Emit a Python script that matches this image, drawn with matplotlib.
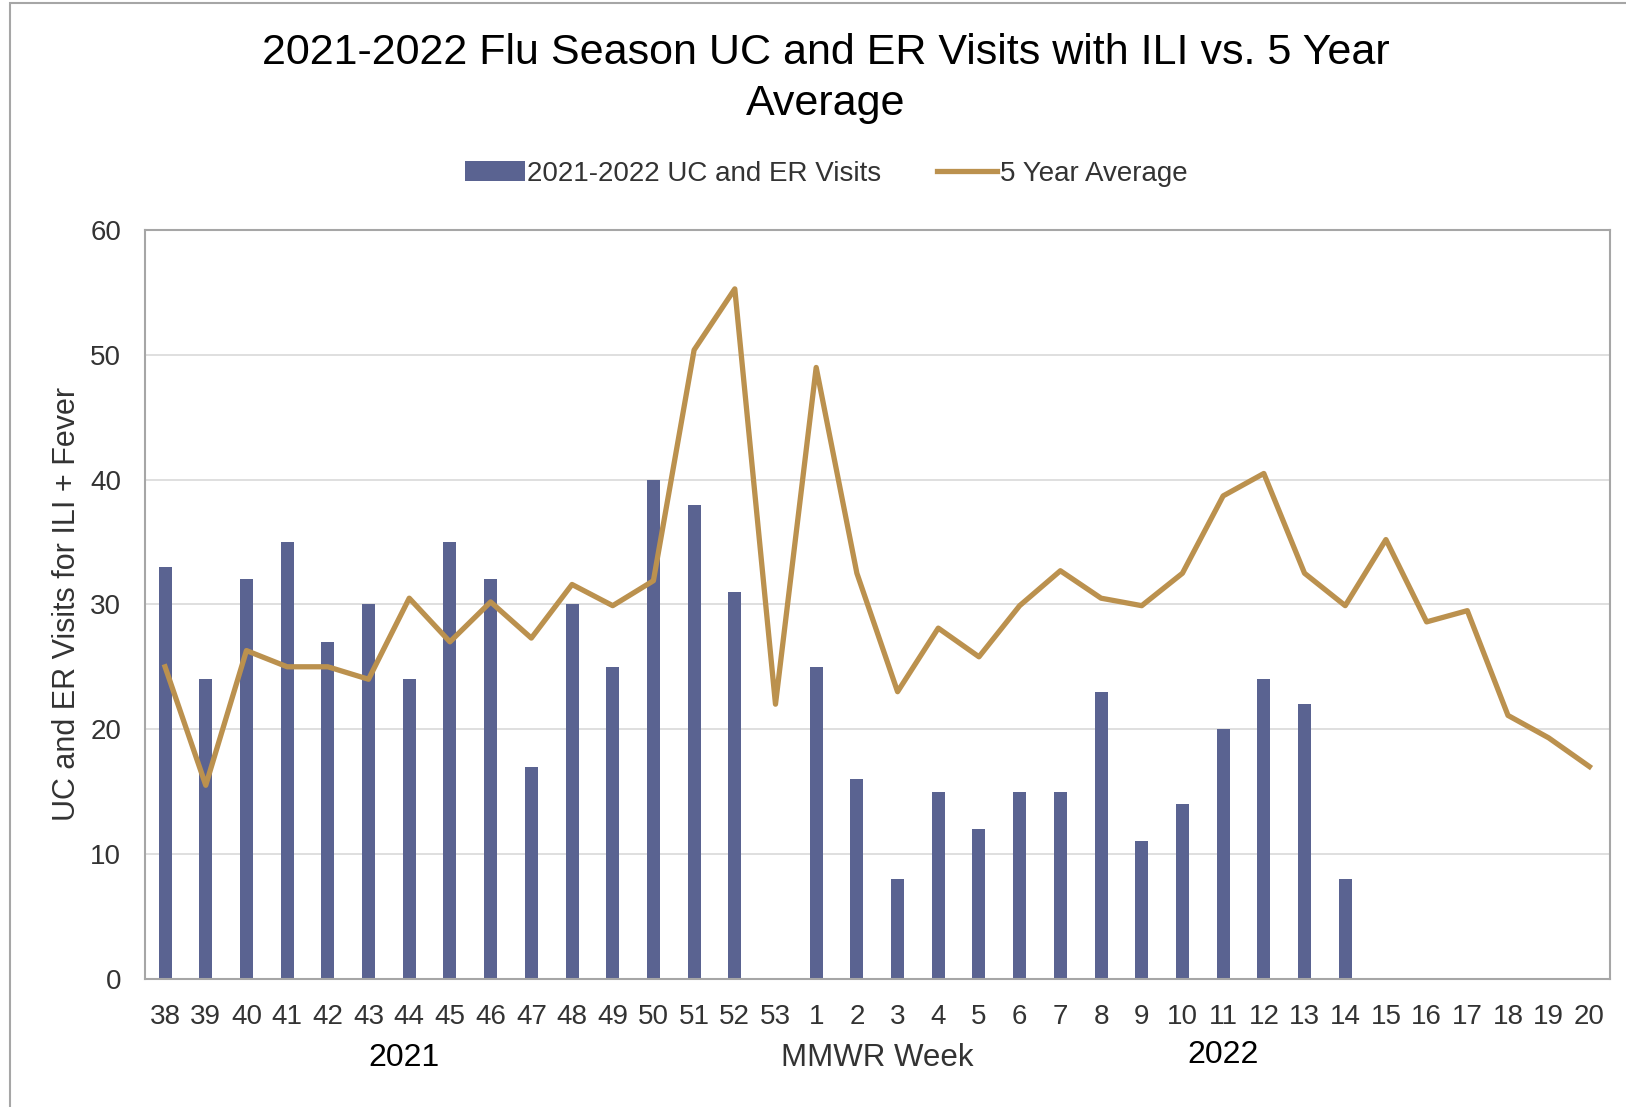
import numpy as np
import matplotlib
matplotlib.use("Agg")
import matplotlib.pyplot as plt
import matplotlib.transforms as mtransforms
from matplotlib.patches import Rectangle

plt.rcParams['font.family'] = ['Liberation Sans', 'DejaVu Sans']

# Data

weeks = ['38', '39', '40', '41', '42', '43', '44', '45', '46', '47', '48', '49',
         '50', '51', '52', '53', '1', '2', '3', '4', '5', '6', '7', '8', '9', '10',
         '11', '12', '13', '14', '15', '16', '17', '18', '19', '20']

visits = [33, 24, 32, 35, 27, 30, 24, 35, 32, 17, 30, 25, 40, 38, 31, np.nan,
          25, 16, 8, 15, 12, 15, 15, 23, 11, 14, 20, 24, 22, 8,
          np.nan, np.nan, np.nan, np.nan, np.nan, np.nan]

five_year_avg = [25, 15.5, 26.3, 25, 25, 24, 30.5, 27, 30.2, 27.3, 31.6, 29.9,
                 31.9, 50.4, 55.3, 22, 49, 32.5, 23, 28.1, 25.8, 29.9, 32.7, 30.5,
                 29.9, 32.5, 38.7, 40.5, 32.5, 29.9, 35.2, 28.6, 29.5, 21.1, 19.3, 17]

bar_color = '#5a6391'
line_color = '#bb914e'
tick_color = '#333333'

# Plot

fig = plt.figure(figsize=(16.26, 11.07), dpi=100)
ax = fig.add_axes([0.089, 0.116, 0.901, 0.676])

x = np.arange(len(weeks))
bars = ax.bar(x, visits, width=0.32, color=bar_color, label='2021-2022 UC and ER Visits', zorder=2)
line, = ax.plot(x, five_year_avg, color=line_color, linewidth=3.8, label='5 Year Average', zorder=3)

ax.set_xlim(-0.5, len(weeks) - 0.5)
ax.set_ylim(0, 60)
ax.set_yticks(range(0, 61, 10))
ax.set_xticks(x)
ax.set_xticklabels(weeks)
ax.tick_params(axis='both', length=0, labelsize=20, colors=tick_color)
ax.tick_params(axis='y', pad=17)
ax.tick_params(axis='x', pad=18)

ax.grid(axis='y', color='#d9d9d9', linewidth=1.2, zorder=0)
ax.set_axisbelow(True)
for side in ax.spines.values():
    side.set_color('#a6a6a6')
    side.set_linewidth(1.5)

ax.set_ylabel('UC and ER Visits for ILI + Fever', fontsize=22, color=tick_color, labelpad=6)

# year / axis labels under the ticks
trans = mtransforms.blended_transform_factory(ax.transData, ax.transAxes)
ax.text(5.87, -0.106, '2021', transform=trans, ha='center', va='center', fontsize=23, color='black')
ax.text(17.5, -0.106, 'MMWR Week', transform=trans, ha='center', va='center', fontsize=22.5, color=tick_color)
ax.text(26.0, -0.102, '2022', transform=trans, ha='center', va='center', fontsize=23, color='black')

fig.suptitle('2021-2022 Flu Season UC and ER Visits with ILI vs. 5 Year\nAverage',
             x=0.508, y=0.970, fontsize=31, linespacing=1.36)

fig.legend([bars, line], ['2021-2022 UC and ER Visits', '5 Year Average'],
           loc='center', bbox_to_anchor=(0.508, 0.843), ncol=2,
           frameon=False, fontsize=20, handlelength=2.15, handletextpad=0.1,
           columnspacing=2.0, labelcolor=tick_color)

# outer chart frame
fig.patches.append(Rectangle((0.006, -0.1), 1.1, 1.097, transform=fig.transFigure,
                             fill=False, edgecolor='#a6a6a6', linewidth=1.5))

fig.savefig('out.png', dpi=100)
